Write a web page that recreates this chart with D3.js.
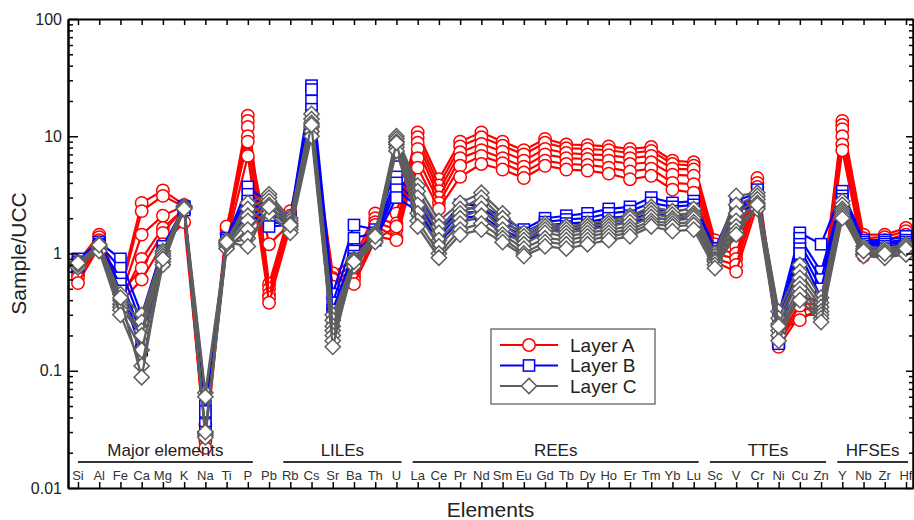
<!DOCTYPE html>
<html><head><meta charset="utf-8">
<script src="https://cdn.jsdelivr.net/npm/d3@7"></script>
<style>body{margin:0;background:#fff;}text{font-family:Arial,"Liberation Sans",sans-serif;}</style>
</head><body>
<svg id="c" width="914" height="520"></svg>
<script>
const elements = ["Si","Al","Fe","Ca","Mg","K","Na","Ti","P","Pb","Rb","Cs","Sr","Ba","Th","U","La","Ce","Pr","Nd","Sm","Eu","Gd","Tb","Dy","Ho","Er","Tm","Yb","Lu","Sc","V","Cr","Ni","Cu","Zn","Y","Nb","Zr","Hf"];
const groups = [
  {label:"Major elements", from:"Si", to:"P"},
  {label:"LILEs", from:"Rb", to:"U"},
  {label:"REEs", from:"La", to:"Lu"},
  {label:"TTEs", from:"Sc", to:"Zn"},
  {label:"HFSEs", from:"Y", to:"Hf"}
];
const yTickLabels = ["0.01","0.1","1","10","100"];
const seriesNames = ["Layer A","Layer B","Layer C"];

// Layer A samples (Sample/UCC), order of `elements`
const layerA = [
 [0.85,1.45,0.50,2.7,3.45,2.6,0.030,1.6,15,0.55,2.3,13,0.68,0.90,2.2,2.2,10.8,4.3,9.0,10.8,9.0,7.6,9.5,8.5,8.4,8.2,7.8,8.1,6.2,6.0,1.3,1.3,4.4,0.20,0.42,0.40,13.5,1.45,1.45,1.65],
 [0.78,1.38,0.46,2.3,3.1,2.5,0.025,1.5,13.5,0.50,2.1,12,0.62,0.80,2.0,1.8,9.8,3.8,8.2,9.8,8.3,7.0,8.8,7.9,7.8,7.6,7.2,7.5,5.8,5.6,1.2,1.15,4.0,0.18,0.38,0.36,12.5,1.35,1.38,1.55],
 [0.72,1.30,0.42,1.45,2.1,2.55,0.028,1.45,12,0.45,1.9,11,0.58,0.72,1.85,1.6,8.8,3.4,7.3,8.6,7.4,6.2,7.8,7.2,7.0,6.9,6.5,6.8,5.3,5.2,1.1,1.0,3.7,0.17,0.34,0.33,11.5,1.25,1.30,1.45],
 [0.66,1.25,0.40,0.9,1.65,2.4,0.022,1.35,10,1.2,1.8,12.5,0.55,0.65,1.75,1.35,7.8,3.0,6.5,7.6,6.5,5.5,7.0,6.5,6.4,6.2,5.8,6.0,4.7,4.6,1.0,0.9,3.3,0.16,0.30,0.30,10,1.15,1.20,1.35],
 [0.62,1.20,0.45,0.75,1.5,2.45,0.035,1.7,9,0.42,2.0,10.5,0.60,0.60,1.4,1.3,6.5,2.7,5.6,6.8,5.9,4.9,6.2,5.8,5.7,5.4,5.0,5.3,4.0,3.9,0.9,0.8,3.0,0.22,0.27,0.35,8.5,1.05,1.10,1.25],
 [0.56,1.15,0.38,0.6,1.2,1.85,0.027,1.25,6.8,0.38,1.7,11.5,0.52,0.55,1.3,1.7,5.4,2.4,4.5,5.8,5.2,4.4,5.6,5.2,5.1,4.8,4.3,4.6,3.5,3.3,0.85,0.7,2.6,0.19,0.36,0.32,7.6,0.95,1.00,1.15]
];
// Layer B samples
const layerB = [
 [0.90,1.25,0.90,0.30,1.15,2.5,0.050,1.35,3.7,2.7,2.0,27,0.45,1.75,1.6,5.5,3.4,1.6,2.6,2.6,2.0,1.6,2.0,2.1,2.2,2.4,2.5,3.0,2.7,2.8,1.1,2.8,3.3,0.30,1.5,1.2,3.4,1.3,1.3,1.4],
 [0.85,1.20,0.75,0.25,1.05,2.45,0.040,1.30,3.2,2.4,1.9,25,0.38,1.35,1.5,4.5,3.0,1.5,2.4,2.45,1.85,1.5,1.85,1.95,2.0,2.2,2.3,2.7,2.5,2.6,1.05,2.6,3.0,0.25,1.35,0.70,3.1,1.25,1.25,1.3],
 [0.80,1.15,0.62,0.20,0.95,2.4,0.035,1.25,2.8,2.2,1.8,20,0.33,1.05,1.4,4.0,2.7,1.4,2.2,2.3,1.75,1.4,1.75,1.8,1.85,2.0,2.1,2.4,2.3,2.4,1.0,2.4,2.8,0.22,1.2,0.60,2.9,1.2,1.2,1.25],
 [0.78,1.10,0.55,0.17,0.90,2.35,0.030,1.20,2.5,1.9,1.7,17,0.30,0.95,1.35,3.5,2.5,1.3,2.0,2.1,1.6,1.3,1.65,1.7,1.75,1.85,1.95,2.2,2.1,2.2,0.95,2.3,2.6,0.20,1.1,0.50,2.7,1.15,1.15,1.2],
 [0.82,1.18,0.48,0.15,0.85,2.5,0.045,1.30,2.2,1.7,1.75,15,0.28,0.90,1.3,3.0,2.3,1.25,1.9,2.0,1.5,1.25,1.55,1.6,1.65,1.75,1.85,2.0,1.95,2.0,0.9,2.2,3.5,0.17,1.0,0.42,2.5,1.1,1.1,1.15]
];
// Layer C samples
const layerC = [
 [0.85,1.20,0.45,0.30,1.05,2.55,0.065,1.30,2.7,3.2,2.0,15.5,0.30,0.90,1.5,10,3.8,1.9,2.7,3.3,2.2,1.5,1.8,1.7,1.8,1.9,2.1,2.5,2.3,2.4,1.0,3.1,3.3,0.32,0.80,0.42,2.8,1.15,1.10,1.2],
 [0.82,1.15,0.40,0.26,1.00,2.5,0.030,1.25,2.4,3.0,1.9,14,0.27,0.88,1.45,9.5,3.4,1.7,2.4,3.0,2.0,1.4,1.7,1.6,1.7,1.8,2.0,2.35,2.15,2.2,0.95,2.6,3.1,0.28,0.70,0.38,2.6,1.10,1.05,1.15],
 [0.80,1.10,0.37,0.22,0.95,2.45,0.029,1.20,2.1,2.8,1.8,13,0.24,0.85,1.4,9.0,3.0,1.5,2.2,2.7,1.8,1.3,1.6,1.5,1.6,1.7,1.85,2.2,2.0,2.1,0.9,2.2,2.9,0.25,0.62,0.35,2.4,1.05,1.00,1.1],
 [0.78,1.12,0.35,0.20,0.90,2.4,0.028,1.15,1.9,2.6,1.7,12,0.22,0.82,1.35,8.5,2.6,1.3,2.0,2.4,1.6,1.2,1.5,1.4,1.5,1.6,1.7,2.05,1.9,2.0,0.88,1.9,2.7,0.22,0.55,0.32,2.3,1.00,0.98,1.05],
 [0.76,1.08,0.33,0.15,0.85,2.5,0.027,1.10,1.6,2.4,1.6,11,0.20,0.80,1.3,8.0,2.2,1.15,1.8,2.1,1.45,1.1,1.35,1.3,1.4,1.5,1.6,1.9,1.8,1.85,0.85,1.7,2.5,0.20,0.50,0.30,2.2,0.98,0.95,1.0],
 [0.80,1.05,0.30,0.11,0.80,2.45,0.030,1.20,1.35,2.2,1.5,10,0.18,0.78,1.25,7.5,1.9,1.0,1.6,1.8,1.35,1.0,1.25,1.2,1.3,1.4,1.5,1.8,1.7,1.75,0.80,1.55,2.4,0.18,0.45,0.28,2.1,0.95,0.92,0.98],
 [0.83,1.18,0.42,0.088,0.90,2.4,0.060,1.25,1.15,2.5,1.75,12.5,0.16,0.85,1.4,8.8,1.7,0.92,1.45,1.6,1.25,0.95,1.15,1.1,1.2,1.3,1.4,1.7,1.55,1.6,0.75,1.45,2.6,0.24,0.40,0.26,2.0,1.05,1.00,1.1]
];
const layers = [
  {name:seriesNames[0], color:"#ff0000", shape:"circle", data:layerA},
  {name:seriesNames[1], color:"#0000ff", shape:"square", data:layerB},
  {name:seriesNames[2], color:"#5e5e5e", shape:"diamond", data:layerC}
];

const svg = d3.select("#c");
const L=68, R=913, T=19, B=488;
const x = d3.scaleLinear().domain([-0.47, 39.33]).range([L, R]);
const y = d3.scaleLog().domain([0.01, 100]).range([B, T]);
const idx = e => elements.indexOf(e);

function marker(g, shape, cx, cy, color){
  if(shape==="circle"){
    g.append("circle").attr("cx",cx).attr("cy",cy).attr("r",6.2)
     .attr("fill","#fff").attr("stroke",color).attr("stroke-width",1.5);
  } else if(shape==="square"){
    g.append("rect").attr("x",cx-5.6).attr("y",cy-5.6).attr("width",11.2).attr("height",11.2)
     .attr("fill","#fff").attr("stroke",color).attr("stroke-width",1.5);
  } else {
    const s=7.6;
    g.append("path").attr("d",`M${cx},${cy-s}L${cx+s},${cy}L${cx},${cy+s}L${cx-s},${cy}Z`)
     .attr("fill","#fff").attr("stroke",color).attr("stroke-width",1.5);
  }
}

// data
const plot = svg.append("g");
const line = d3.line().x((d,i)=>x(i)).y(d=>y(d));
layers.forEach(ly=>{
  ly.data.forEach(s=>{
    const g = plot.append("g");
    g.append("path").attr("d",line(s)).attr("fill","none").attr("stroke",ly.color).attr("stroke-width",2.2);
    s.forEach((v,i)=>marker(g, ly.shape, x(i), y(v), ly.color));
  });
});

// axes
const majors = yTickLabels.map(Number);
const minors = [];
for(let d=0.01; d<100; d*=10){ for(let k=2;k<=9;k++) minors.push(+(d*k).toPrecision(3)); }
function styleAxis(g){ g.selectAll("path.domain").attr("stroke","#000").attr("stroke-width",2); g.selectAll(".tick line").attr("stroke","#000").attr("stroke-width",1.5); }

svg.append("g").attr("transform",`translate(${L},0)`)
  .call(d3.axisLeft(y).tickValues(minors).tickSize(-5).tickFormat("").tickSizeOuter(0)).call(styleAxis);
svg.append("g").attr("transform",`translate(${L},0)`)
  .call(d3.axisLeft(y).tickValues(majors).tickSize(-10).tickPadding(6).tickSizeOuter(0)
        .tickFormat((d,i)=>yTickLabels[i])).call(styleAxis)
  .selectAll("text").attr("font-size",16).attr("fill","#222").style("font-family","Arial, 'Liberation Sans', sans-serif");
svg.append("g").attr("transform",`translate(${R},0)`)
  .call(d3.axisRight(y).tickValues(minors).tickSize(-4).tickFormat("").tickSizeOuter(0)).call(styleAxis);
svg.append("g").attr("transform",`translate(${R},0)`)
  .call(d3.axisRight(y).tickValues(majors).tickSize(-7).tickFormat("").tickSizeOuter(0)).call(styleAxis);
const xt = d3.range(elements.length);
svg.append("g").attr("transform",`translate(0,${T})`)
  .call(d3.axisTop(x).tickValues(xt).tickSize(-6).tickFormat("").tickSizeOuter(0)).call(styleAxis);
svg.append("g").attr("transform",`translate(0,${B})`)
  .call(d3.axisBottom(x).tickValues(xt).tickSize(-6).tickFormat("").tickSizeOuter(0)).call(styleAxis);

// element labels
svg.append("g").selectAll("text").data(elements).join("text")
  .attr("x",(d,i)=>x(i)).attr("y",480).attr("text-anchor","middle")
  .attr("font-size",13).attr("fill","#333").text(d=>d);

// group labels and lines
const gg = svg.append("g");
groups.forEach(g=>{
  let x0 = x(idx(g.from)), x1 = x(idx(g.to));
  const pad0 = g.from==="Si"?0:(g.from==="Rb"?-7:-5);
  x0 += pad0; x1 += (g.to==="Hf"?2:5);
  gg.append("line").attr("x1",x0).attr("x2",x1).attr("y1",462).attr("y2",462).attr("stroke","#333").attr("stroke-width",2);
  gg.append("text").attr("x",(x0+x1)/2).attr("y",456).attr("text-anchor","middle").attr("font-size",17).attr("fill","#222").text(g.label);
});

// axis titles
svg.append("text").attr("transform",`translate(26,${(T+B)/2}) rotate(-90)`).attr("text-anchor","middle")
  .attr("font-size",21).attr("fill","#222").text("Sample/UCC");
svg.append("text").attr("x",(L+R)/2).attr("y",517).attr("text-anchor","middle")
  .attr("font-size",21).attr("fill","#222").text("Elements");

// legend
const lg = svg.append("g");
lg.append("rect").attr("x",491).attr("y",329).attr("width",164).attr("height",75).attr("fill","#fff").attr("stroke","#555").attr("stroke-width",1.2);
layers.forEach((ly,i)=>{
  const cy = 345 + i*20.5;
  lg.append("line").attr("x1",500).attr("x2",558).attr("y1",cy).attr("y2",cy).attr("stroke",ly.color).attr("stroke-width",2);
  marker(lg, ly.shape, 529, cy, ly.color);
  lg.append("text").attr("x",570).attr("y",cy+6.5).attr("font-size",19).attr("fill","#222").text(ly.name);
});
</script>
</body></html>
